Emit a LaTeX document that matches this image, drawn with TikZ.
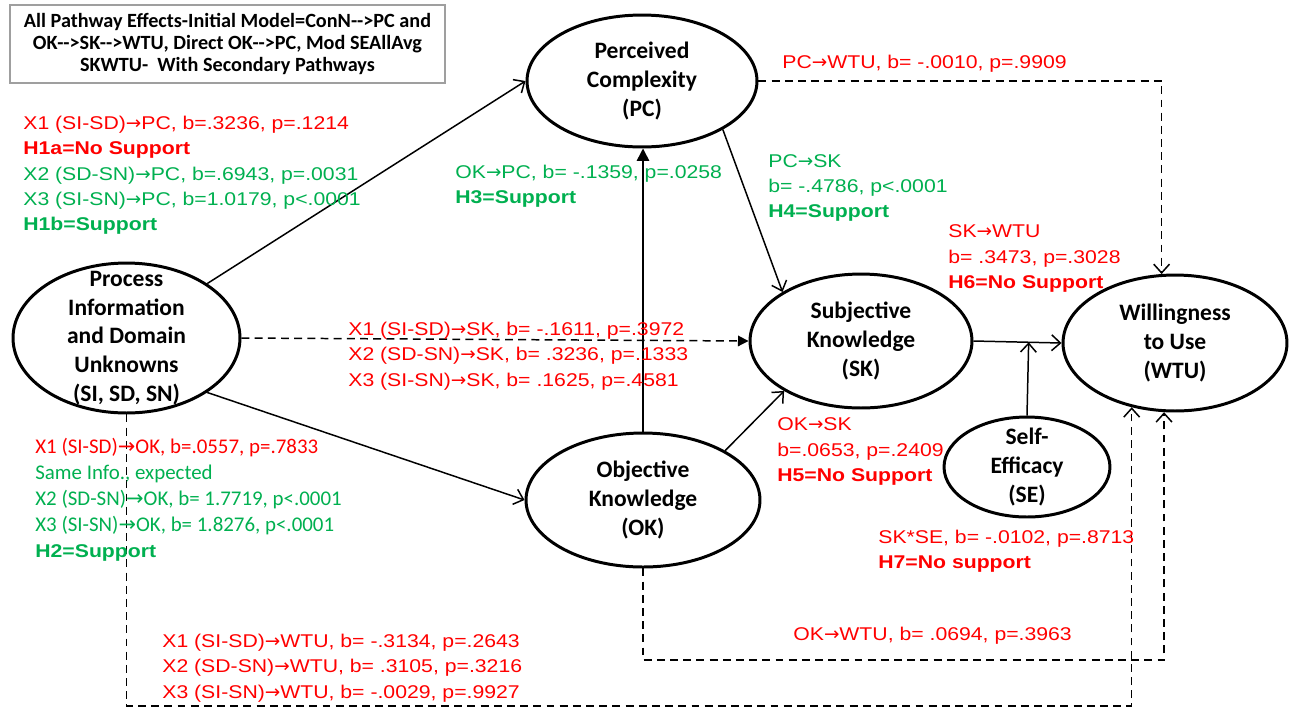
\documentclass[tikz,border=0pt]{standalone}
\usepackage{fontspec}
\setmainfont{Liberation Sans}
\newfontfamily\nodefont{Carlito}
\newfontfamily\labfont[FakeStretch=1.15]{Liberation Sans}
\newfontfamily\calfont{Carlito}
\newfontfamily\arrowfont{DejaVu Sans}
\usetikzlibrary{shapes.geometric, arrows.meta, calc}
\definecolor{myred}{RGB}{255,0,0}
\definecolor{mygreen}{RGB}{0,176,80}
\newcommand{\rarr}{{\arrowfont\mdseries →}}
\tikzset{
  ell/.style={ellipse, draw, line width=1.7pt, inner sep=0pt},
  ntext/.style={font=\nodefont\bfseries\fontsize{13.4pt}{16.4pt}\selectfont, align=center, inner sep=0pt},
  lab/.style={font=\labfont\fontsize{10.5pt}{14.4pt}\selectfont, align=left, anchor=west, inner sep=0pt},
  cal/.style={font=\calfont\fontsize{11.9pt}{14.8pt}\selectfont, align=left, anchor=west, inner sep=0pt},
  conn/.style={line width=0.85pt, -{Straight Barb[length=5pt,width=9pt]}},
  dconn/.style={conn, dash pattern=on 4.5pt off 3pt},
  tconn/.style={line width=0.85pt, -{Triangle[length=7pt,width=7pt]}}
}
\begin{document}
\begin{tikzpicture}[x=0.02cm, y=-0.02cm]
\useasboundingbox (0,0) rectangle (1291,708);
\fill[white] (0,0) rectangle (1291,708);

% title
\node[draw=gray!75, line width=0.8pt, minimum width=8.7cm, minimum height=1.56cm,
      font=\nodefont\bfseries\fontsize{11.5pt}{12.5pt}\selectfont, align=center] (title) at (227.5,44)
  {All Pathway Effects-Initial Model=ConN-->PC and\\OK-->SK-->WTU, Direct OK-->PC, Mod SEAllAvg\\SKWTU-\ \ With Secondary Pathways};

% ellipses
\node[ell, minimum width=4.6cm, minimum height=2.64cm] (pc) at (642,81) {};
\node[ntext] (pct) at (pc) {Perceived\\Complexity\\(PC)};
\node[ell, minimum width=4.54cm, minimum height=3.0cm] (pi) at (126.5,338) {};
\node[ntext] (pit) at (pi) {Process\\Information\\and Domain\\Unknowns\\(SI, SD, SN)};
\node[ell, minimum width=4.44cm, minimum height=2.68cm] (sk) at (861,341) {};
\node[ntext] (skt) at (sk) {Subjective\\Knowledge\\(SK)};
\node[ell, minimum width=4.48cm, minimum height=2.72cm] (wtu) at (1175,343) {};
\node[ntext] (wtut) at (wtu) {Willingness\\to Use\\(WTU)};
\node[ell, minimum width=4.68cm, minimum height=2.68cm] (ok) at (643,500) {};
\node[ntext] (okt) at (ok) {Objective\\Knowledge\\(OK)};
\node[ell, minimum width=3.32cm, minimum height=2.0cm] (se) at (1027,467) {};
\node[ntext] (set) at (se) {Self-\\Efficacy\\(SE)};

% solid connectors
\draw[conn] (pi.34) -- (pc.west);
\draw[conn] (pi.-34) -- (ok.west);
\draw[tconn] (ok.north) -- (ok.north |- pc.south);
\draw[conn] (pc.-31) -- (sk.148);
\draw[conn] (ok.31) -- (sk.-147);
\draw[conn] (sk.east) -- (wtu.west);
\coordinate (modpt) at ($(sk.east)!(se.north)!(wtu.west)$);
\draw[conn] (se.north) -- (modpt);

% dashed connectors
\draw[line width=0.85pt, dash pattern=on 4.5pt off 3pt, -{Triangle[length=6pt,width=6pt]}] (pi.east) -- (sk.west);
\draw[dconn] (pc.east) -| (wtu.101);
\coordinate (okb) at (643,660);
\draw[dconn] (ok.south) -- (okb) -| (wtu.-99);
\coordinate (pib) at (126.5,706);
\draw[dconn] (pi.south) -- (pib) -| (wtu.-124);

% labels
\node[lab] (lpc) at (23,175.5) {\textcolor{myred}{X1 (SI-SD)\rarr PC, b=.3236, p=.1214}\\
  \textcolor{myred}{\bfseries H1a=No Support}\\
  \textcolor{mygreen}{X2 (SD-SN)\rarr PC, b=.6943, p=.0031}\\
  \textcolor{mygreen}{X3 (SI-SN)\rarr PC, b=1.0179, p<.0001}\\
  \textcolor{mygreen}{\bfseries H1b=Support}};
\node[lab, text=myred] (lsk) at (348,356) {X1 (SI-SD)\rarr SK, b= -.1611, p=.3972\\X2 (SD-SN)\rarr SK, b= .3236, p=.1333\\X3 (SI-SN)\rarr SK, b= .1625, p=.4581};
\node[cal] (lok) at (35,500) {\textcolor{myred}{X1 (SI-SD)\rarr OK, b=.0557, p=.7833}\\
  \textcolor{mygreen}{Same Info., expected}\\
  \textcolor{mygreen}{X2 (SD-SN)\rarr OK, b= 1.7719, p<.0001}\\
  \textcolor{mygreen}{X3 (SI-SN)\rarr OK, b= 1.8276, p<.0001}\\
  \textcolor{mygreen}{\labfont\bfseries\fontsize{10.5pt}{14.8pt}\selectfont H2=Support}};
\node[lab, text=mygreen] (lokpc) at (455,186.5) {OK\rarr PC, b= -.1359, p=.0258\\\bfseries H3=Support};
\node[lab, text=mygreen] (lpcsk) at (768,188) {PC\rarr SK\\b= -.4786, p<.0001\\\bfseries H4=Support};
\node[lab, text=myred] (lpcwtu) at (782,64) {PC\rarr WTU, b= -.0010, p=.9909};
\node[lab, text=myred] (lskwtu) at (948,258.5) {SK\rarr WTU\\b= .3473, p=.3028\\\bfseries H6=No Support};
\node[lab, text=myred] (loksk) at (777,451.5) {OK\rarr SK\\b=.0653, p=.2409\\\bfseries H5=No Support};
\node[lab, text=myred] (lskse) at (878,551.5) {SK*SE, b= -.0102, p=.8713\\\bfseries H7=No support};
\node[lab, text=myred] (lokwtu) at (793,636) {OK\rarr WTU, b= .0694, p=.3963};
\node[lab, text=myred] (lpiwtu) at (162,668) {X1 (SI-SD)\rarr WTU, b= -.3134, p=.2643\\X2 (SD-SN)\rarr WTU, b= .3105, p=.3216\\X3 (SI-SN)\rarr WTU, b= -.0029, p=.9927};
\end{tikzpicture}
\end{document}
